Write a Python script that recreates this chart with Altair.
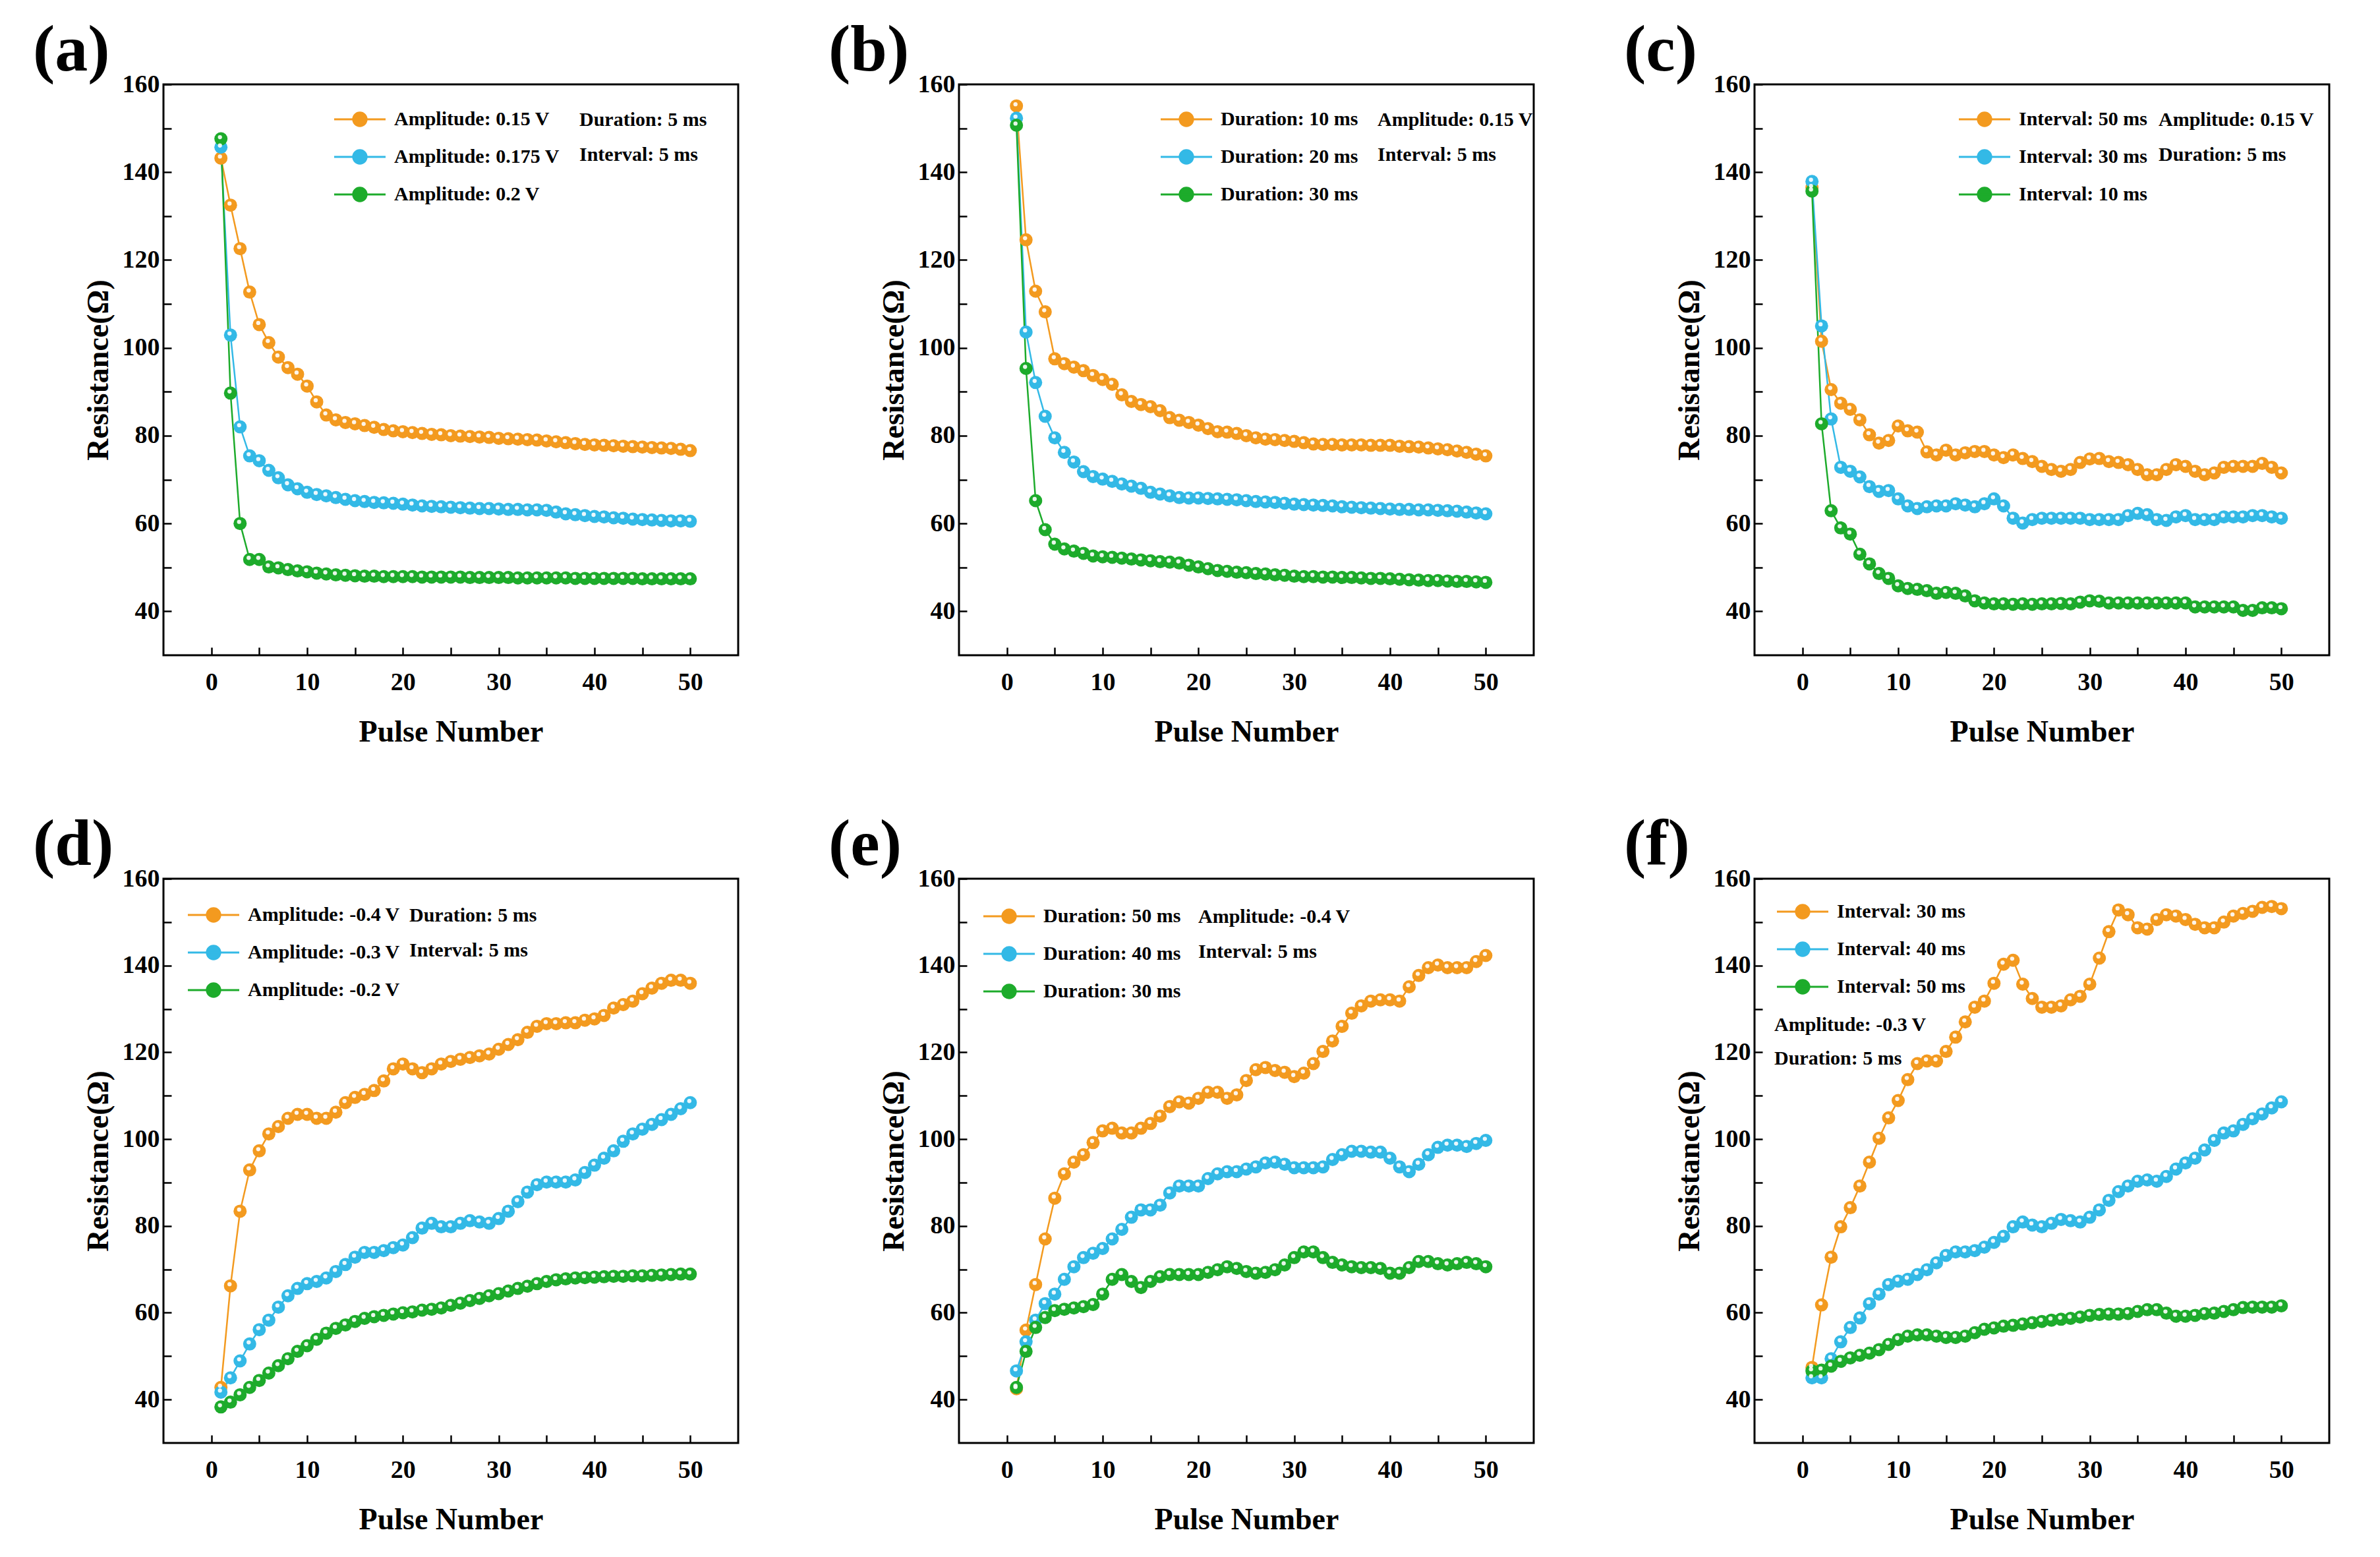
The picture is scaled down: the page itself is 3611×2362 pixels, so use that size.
import altair as alt
import pandas as pd

pulse_numbers = list(range(1, 51))

# ---------------- (a) amplitude, positive ----------------
a_names = ["Amplitude: 0.15 V", "Amplitude: 0.175 V", "Amplitude: 0.2 V"]
a_orange = [143.2, 132.5, 122.6, 112.7, 105.3, 101.2, 97.9, 95.5, 94.0, 91.3,
            87.7, 84.7, 83.6, 83.0, 82.7, 82.3, 81.9, 81.4, 81.1, 80.9,
            80.7, 80.5, 80.3, 80.2, 80.0, 79.9, 79.8, 79.7, 79.6, 79.4,
            79.3, 79.2, 79.1, 79.0, 78.8, 78.6, 78.4, 78.2, 78.0, 77.9,
            77.8, 77.7, 77.6, 77.5, 77.4, 77.3, 77.2, 77.1, 76.9, 76.6]
a_blue = [145.7, 102.9, 82.0, 75.4, 74.3, 72.1, 70.4, 68.8, 67.9, 67.1,
          66.6, 66.3, 65.9, 65.5, 65.2, 65.0, 64.8, 64.7, 64.6, 64.4,
          64.2, 64.0, 63.9, 63.8, 63.7, 63.6, 63.5, 63.4, 63.4, 63.3,
          63.2, 63.2, 63.1, 63.1, 63.0, 62.6, 62.2, 62.0, 61.8, 61.6,
          61.5, 61.3, 61.2, 61.0, 60.9, 60.8, 60.7, 60.6, 60.6, 60.5]
a_green = [147.6, 89.7, 60.0, 51.8, 51.8, 50.1, 49.9, 49.5, 49.2, 49.0,
           48.7, 48.5, 48.3, 48.2, 48.1, 48.0, 48.0, 47.9, 47.9, 47.9,
           47.9, 47.8, 47.8, 47.8, 47.8, 47.8, 47.7, 47.7, 47.7, 47.7,
           47.7, 47.6, 47.6, 47.6, 47.6, 47.6, 47.6, 47.5, 47.5, 47.5,
           47.5, 47.5, 47.5, 47.5, 47.4, 47.4, 47.4, 47.4, 47.4, 47.4]
a_notes = ["Duration: 5 ms", "Interval: 5 ms"]

# ---------------- (b) duration, positive ----------------
b_names = ["Duration: 10 ms", "Duration: 20 ms", "Duration: 30 ms"]
b_orange = [155.1, 124.6, 112.9, 108.2, 97.5, 96.4, 95.6, 94.8, 93.7, 92.8,
            91.7, 89.3, 87.8, 87.1, 86.6, 85.7, 84.1, 83.5, 83.0, 82.4,
            81.6, 80.9, 80.8, 80.5, 80.0, 79.5, 79.2, 79.1, 78.9, 78.7,
            78.4, 78.1, 78.0, 78.0, 77.9, 77.9, 77.9, 77.8, 77.8, 77.8,
            77.6, 77.5, 77.4, 77.2, 77.0, 76.8, 76.5, 76.2, 75.8, 75.4]
b_blue = [152.3, 103.6, 92.1, 84.4, 79.5, 76.2, 74.0, 71.8, 70.7, 70.1,
          69.6, 69.0, 68.5, 68.0, 67.1, 66.7, 66.3, 65.9, 65.8, 65.8,
          65.7, 65.6, 65.5, 65.4, 65.2, 65.0, 64.9, 64.8, 64.6, 64.4,
          64.3, 64.2, 64.1, 64.0, 63.8, 63.7, 63.6, 63.5, 63.4, 63.3,
          63.2, 63.2, 63.1, 63.1, 63.0, 62.9, 62.8, 62.6, 62.4, 62.2]
b_green = [150.7, 95.3, 65.2, 58.6, 55.3, 54.2, 53.7, 53.2, 52.6, 52.4,
           52.3, 52.1, 51.9, 51.7, 51.5, 51.3, 51.2, 51.0, 50.5, 50.1,
           49.7, 49.3, 49.1, 48.9, 48.8, 48.6, 48.5, 48.3, 48.2, 48.0,
           47.9, 47.9, 47.8, 47.8, 47.7, 47.7, 47.6, 47.5, 47.5, 47.4,
           47.3, 47.2, 47.1, 47.0, 47.0, 46.9, 46.8, 46.8, 46.7, 46.6]
b_notes = ["Amplitude: 0.15 V", "Interval: 5 ms"]

# ---------------- (c) interval, positive ----------------
c_names = ["Interval: 50 ms", "Interval: 30 ms", "Interval: 10 ms"]
c_orange = [136.5, 101.5, 90.5, 87.4, 86.0, 83.6, 80.2, 78.3, 78.9, 82.2,
            81.1, 80.8, 76.3, 75.6, 76.7, 75.6, 76.1, 76.4, 76.4, 75.6,
            75.0, 75.6, 74.8, 74.1, 73.0, 72.3, 71.9, 72.3, 73.9, 74.7,
            74.8, 74.1, 73.9, 73.4, 72.3, 71.1, 71.1, 72.3, 73.4, 73.0,
            71.9, 71.1, 71.5, 72.8, 73.0, 73.0, 73.0, 73.7, 72.8, 71.5]
c_blue = [137.9, 105.0, 83.8, 72.8, 71.9, 70.6, 68.4, 67.3, 67.5, 65.6,
          64.0, 63.4, 63.8, 64.0, 64.0, 64.5, 64.2, 63.8, 64.5, 65.6,
          64.0, 61.2, 60.1, 60.9, 61.2, 61.2, 61.2, 61.2, 61.2, 60.9,
          60.9, 60.9, 60.9, 61.8, 62.3, 62.0, 60.9, 60.7, 61.5, 61.8,
          60.9, 60.9, 60.9, 61.5, 61.5, 61.5, 61.8, 61.8, 61.5, 61.2]
c_green = [135.7, 82.7, 62.9, 59.0, 57.6, 53.0, 50.8, 48.6, 47.5, 45.8,
           45.2, 45.0, 44.7, 44.1, 44.3, 44.1, 43.5, 42.4, 41.9, 41.7,
           41.7, 41.6, 41.7, 41.6, 41.7, 41.7, 41.8, 41.7, 42.1, 42.4,
           42.3, 41.9, 41.9, 41.9, 41.9, 41.9, 41.9, 41.9, 41.9, 41.9,
           41.0, 41.0, 41.0, 41.0, 41.0, 40.2, 40.2, 40.8, 40.8, 40.6]
c_notes = ["Amplitude: 0.15 V", "Duration: 5 ms"]

# ---------------- (d) amplitude, negative ----------------
d_names = ["Amplitude: -0.4 V", "Amplitude: -0.3 V", "Amplitude: -0.2 V"]
d_orange = [42.8, 66.2, 83.4, 92.9, 97.3, 101.2, 102.9, 104.8, 105.7, 105.7,
            104.8, 104.8, 106.2, 108.4, 109.6, 110.3, 111.2, 113.4, 116.2, 117.3,
            116.2, 115.3, 116.2, 117.3, 117.9, 118.4, 118.8, 119.2, 119.6, 120.7,
            121.8, 122.9, 124.6, 126.0, 126.6, 126.6, 126.8, 126.8, 127.4, 127.7,
            128.5, 130.2, 131.0, 131.8, 133.5, 134.8, 135.9, 136.6, 136.6, 135.9]
d_blue = [41.7, 45.0, 48.9, 52.8, 56.1, 58.3, 61.3, 63.9, 65.6, 66.7,
          67.2, 68.0, 69.5, 71.1, 72.8, 73.9, 73.9, 74.3, 75.0, 75.6,
          77.3, 79.5, 80.6, 79.8, 79.8, 80.6, 81.2, 80.9, 80.6, 81.7,
          83.4, 85.6, 87.8, 89.5, 90.1, 90.1, 90.1, 90.6, 92.3, 94.0,
          95.6, 97.3, 99.5, 101.2, 102.3, 103.4, 104.5, 105.7, 107.0, 108.4]
d_green = [38.3, 39.4, 41.1, 42.8, 44.4, 46.1, 47.8, 49.4, 51.1, 52.4,
           53.9, 55.3, 56.4, 57.2, 58.0, 58.7, 59.1, 59.4, 59.7, 60.0,
           60.2, 60.6, 60.8, 61.1, 61.7, 62.2, 62.8, 63.3, 63.9, 64.4,
           65.0, 65.6, 66.1, 66.7, 67.2, 67.6, 67.8, 68.0, 68.1, 68.2,
           68.3, 68.4, 68.4, 68.5, 68.5, 68.6, 68.7, 68.8, 68.9, 68.9]
d_notes = ["Duration: 5 ms", "Interval: 5 ms"]

# ---------------- (e) duration, negative ----------------
e_names = ["Duration: 50 ms", "Duration: 40 ms", "Duration: 30 ms"]
e_orange = [42.5, 56.0, 66.5, 77.0, 86.4, 92.0, 94.7, 96.4, 99.2, 101.9,
            102.5, 101.4, 101.4, 102.5, 103.6, 105.3, 107.5, 108.6, 108.3, 109.4,
            110.8, 110.8, 109.4, 110.2, 113.5, 116.0, 116.5, 115.8, 115.4, 114.4,
            115.2, 117.4, 120.2, 122.6, 126.0, 129.0, 130.7, 131.8, 132.1, 132.1,
            131.8, 135.1, 137.7, 139.5, 140.1, 139.5, 139.5, 139.5, 140.9, 142.3]
e_blue = [46.6, 53.3, 58.3, 62.1, 64.3, 67.7, 70.6, 72.7, 73.7, 74.8,
          77.0, 79.2, 82.0, 83.7, 83.7, 84.8, 87.6, 89.2, 89.2, 89.2,
          90.9, 92.0, 92.5, 92.5, 93.1, 93.6, 94.5, 94.7, 94.2, 93.4,
          93.4, 93.4, 93.6, 95.3, 96.4, 97.2, 97.2, 97.0, 97.0, 95.6,
          93.6, 92.5, 94.2, 96.4, 98.1, 98.6, 98.6, 98.3, 99.0, 99.7]
e_green = [42.8, 51.1, 56.6, 58.9, 60.5, 60.8, 61.1, 61.4, 61.9, 64.3,
           67.7, 68.8, 67.2, 65.8, 67.2, 68.3, 68.8, 68.8, 68.8, 68.8,
           69.3, 69.9, 70.6, 70.2, 69.5, 69.1, 69.3, 69.9, 71.0, 72.7,
           74.0, 74.0, 72.7, 71.6, 71.0, 70.6, 70.4, 70.4, 70.2, 69.1,
           69.1, 70.4, 71.8, 71.8, 71.3, 71.0, 71.3, 71.6, 71.3, 70.6]
e_notes = ["Amplitude: -0.4 V", "Interval: 5 ms"]

# ---------------- (f) interval, negative ----------------
f_names = ["Interval: 30 ms", "Interval: 40 ms", "Interval: 50 ms"]
f_orange = [47.4, 61.8, 72.8, 79.8, 84.2, 89.2, 94.7, 100.2, 104.9, 108.9,
            113.7, 117.4, 118.0, 118.0, 120.2, 123.5, 127.0, 130.4, 131.8, 135.9,
            140.3, 141.2, 135.7, 132.4, 130.4, 130.4, 130.7, 132.1, 132.9, 135.7,
            141.7, 147.8, 152.8, 151.7, 148.7, 148.4, 150.6, 151.7, 151.4, 150.6,
            149.5, 148.7, 148.7, 150.0, 151.4, 152.0, 152.5, 153.4, 153.6, 153.1]
f_blue = [45.0, 45.0, 49.4, 53.3, 56.6, 58.8, 62.1, 64.3, 66.5, 67.3,
          67.7, 68.8, 69.9, 71.5, 73.2, 74.0, 74.0, 74.3, 75.1, 76.2,
          77.6, 79.8, 80.9, 80.2, 79.8, 80.6, 81.5, 81.2, 80.9, 82.0,
          83.7, 85.9, 87.9, 89.2, 90.3, 90.6, 90.3, 91.4, 93.1, 94.5,
          95.6, 97.5, 99.7, 101.4, 101.9, 103.4, 104.7, 105.8, 107.2, 108.6]
f_green = [46.6, 46.8, 47.7, 48.8, 49.6, 50.2, 50.7, 51.5, 52.7, 53.8,
           54.6, 54.9, 54.9, 54.6, 54.3, 54.3, 54.6, 55.4, 56.2, 56.5,
           56.9, 57.1, 57.4, 57.7, 58.0, 58.3, 58.5, 58.7, 59.0, 59.4,
           59.6, 59.7, 59.7, 59.8, 60.3, 60.7, 60.7, 59.9, 59.2, 59.2,
           59.4, 59.8, 59.9, 60.3, 60.7, 61.2, 61.3, 61.3, 61.3, 61.6]
f_notes = ["Amplitude: -0.3 V", "Duration: 5 ms"]

x_tick_values = [0, 5, 10, 15, 20, 25, 30, 35, 40, 45, 50]
y_tick_values = [40, 50, 60, 70, 80, 90, 100, 110, 120, 130, 140, 150, 160]

ORANGE, BLUE, GREEN = "#F39A1F", "#33B9E6", "#1DAB2B"
FONT = "Liberation Serif"
LEGEND_PATH = ("M-3,0L3,0M0.78,0A0.78,0.78,0,1,1,-0.78,0"
               "A0.78,0.78,0,1,1,0.78,0Z")
LEG_FS = 30


def panel(letter, names, series, notes, legend_x, legend_y, note_pos, w, h):
    rows = []
    for name, vals in zip(names, series):
        for n, v in zip(pulse_numbers, vals):
            rows.append({"Pulse": n, "R": v, "Series": name})
    df = pd.DataFrame(rows)

    x = alt.X("Pulse:Q",
              scale=alt.Scale(domain=[-5, 55], nice=False, zero=False),
              axis=alt.Axis(values=x_tick_values, title="Pulse Number",
                            labelExpr="datum.value % 10 == 0 ? datum.label : ''",
                            labelPadding=22, titlePadding=34))
    y = alt.Y("R:Q",
              scale=alt.Scale(domain=[30, 160], nice=False, zero=False),
              axis=alt.Axis(values=y_tick_values, title="Resistance(Ω)",
                            labelExpr="datum.value % 20 == 0 ? datum.label : ''",
                            labelPadding=6, titlePadding=12))
    color = alt.Color(
        "Series:N",
        scale=alt.Scale(domain=names, range=[ORANGE, BLUE, GREEN]),
        sort=names,
        legend=alt.Legend(orient="none", legendX=legend_x, legendY=legend_y,
                          title=None, symbolType=LEGEND_PATH, symbolSize=676,
                          symbolStrokeWidth=3, symbolOpacity=1,
                          labelFont=FONT, labelFontSize=LEG_FS,
                          labelFontWeight="bold", labelColor="black",
                          labelOffset=37, rowPadding=23, padding=0,
                          labelLimit=1000))

    base = alt.Chart(df).encode(x=x, y=y, color=color)
    line = base.mark_line(strokeWidth=2.5)
    pts = base.mark_point(filled=True, size=400, opacity=1)
    hl = alt.Chart(df).mark_point(filled=True, size=40, color="white",
                                  opacity=0.9, xOffset=-1.5,
                                  yOffset=-2.5).encode(x=x, y=y)
    label = (alt.Chart(pd.DataFrame({"t": [letter]}))
             .mark_text(align="left", baseline="alphabetic", font=FONT,
                        fontSize=100, fontWeight="bold", color="black")
             .encode(text="t:N", x=alt.value(-198), y=alt.value(-21)))
    layers = [line, pts, hl, label]
    for txt, (px, py) in zip(notes, note_pos):
        layers.append(
            alt.Chart(pd.DataFrame({"t": [txt]}))
            .mark_text(align="left", baseline="middle", font=FONT,
                       fontSize=LEG_FS, fontWeight="bold", color="black")
            .encode(text="t:N", x=alt.value(px), y=alt.value(py)))
    return alt.layer(*layers).properties(width=w, height=h)


W = 872
pa = panel("(a)", a_names, [a_orange, a_blue, a_green], a_notes, 283, 38,
           [(631, 54), (631, 107)], W, 866)
pb = panel("(b)", b_names, [b_orange, b_blue, b_green], b_notes, 330, 38,
           [(635, 54), (635, 107)], W, 866)
pc = panel("(c)", c_names, [c_orange, c_blue, c_green], c_notes, 334, 38,
           [(613, 54), (613, 107)], W, 866)
pd_ = panel("(d)", d_names, [d_orange, d_blue, d_green], d_notes, 61, 40,
            [(373, 56), (373, 109)], W, 856)
pe = panel("(e)", e_names, [e_orange, e_blue, e_green], e_notes, 61, 42,
           [(363, 58), (363, 111)], W, 856)
pf = panel("(f)", f_names, [f_orange, f_blue, f_green], f_notes, 58, 35,
           [(30, 222), (30, 273)], W, 856)

row1 = alt.hconcat(pa, pb, pc, spacing=133).resolve_scale(
    color="independent").resolve_legend(color="independent")
row2 = alt.hconcat(pd_, pe, pf, spacing=133).resolve_scale(
    color="independent").resolve_legend(color="independent")

chart = (
    alt.vconcat(row1, row2, spacing=95)
    .resolve_scale(color="independent")
    .resolve_legend(color="independent")
    .properties(padding={"left": 40, "top": 17, "right": 0, "bottom": 0},
                background="white")
    .configure_view(stroke="black", strokeWidth=3)
    .configure_axis(domain=False, grid=False, tickColor="black",
                    tickWidth=2.5, tickSize=12, offset=-12,
                    labelFont=FONT, labelFontSize=38, labelFontWeight="bold",
                    labelColor="black", titleFont=FONT, titleFontSize=46,
                    titleFontWeight="bold", titleColor="black")
)

chart.save("out.html", embed_options={"renderer": "svg", "actions": False})
